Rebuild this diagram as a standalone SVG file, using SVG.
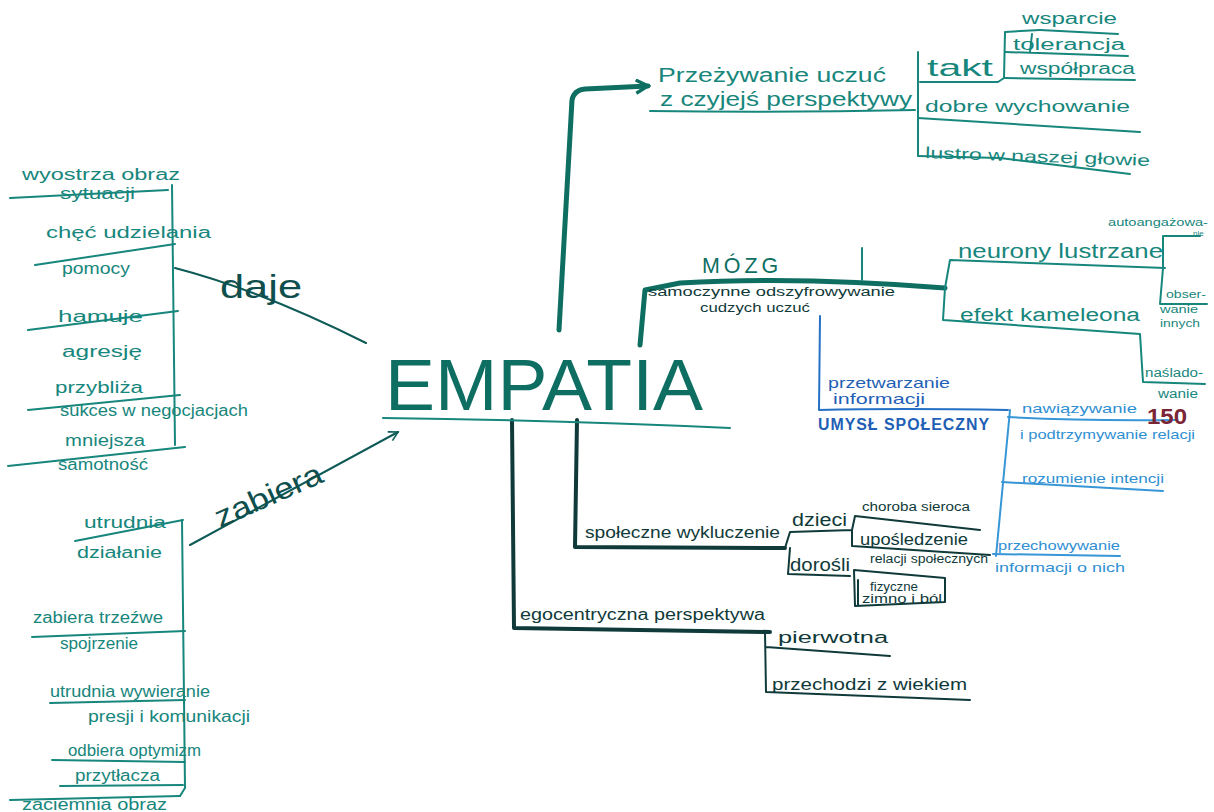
<svg xmlns="http://www.w3.org/2000/svg" width="1214" height="812" viewBox="0 0 1214 812">
<defs>
<style>
text{font-family:"Liberation Sans","DejaVu Sans",sans-serif;}
.tl{fill:#17867c;font-size:16px;}
.tls{fill:#17867c;font-size:12px;}
.dk{fill:#0f3a39;font-size:16px;}
.dks{fill:#0f3a39;font-size:12px;}
.bl{fill:#1f5fb5;font-size:15px;}
.lb{fill:#2f8fd3;font-size:13px;}
.ltl{stroke:#17867c;stroke-width:2;fill:none;stroke-linecap:round;stroke-linejoin:round;}
.ltk{stroke:#0e6e62;stroke-width:5;fill:none;stroke-linecap:round;stroke-linejoin:round;}
.ldk{stroke:#0f3a39;stroke-width:2;fill:none;stroke-linecap:round;stroke-linejoin:round;}
.ldkk{stroke:#0f3a39;stroke-width:4;fill:none;stroke-linecap:round;stroke-linejoin:round;}
.lbl{stroke:#2570c4;stroke-width:2;fill:none;stroke-linecap:round;stroke-linejoin:round;}
.llb{stroke:#3796d6;stroke-width:2;fill:none;stroke-linecap:round;stroke-linejoin:round;}
</style>
<marker id="arr" viewBox="0 0 12 12" refX="10" refY="6" markerWidth="3.2" markerHeight="3.2" orient="auto" markerUnits="strokeWidth">
<path d="M1,1 L10,6 L1,11" fill="none" stroke="#0e6e62" stroke-width="2.5"/>
</marker>
<marker id="arr2" viewBox="0 0 12 12" refX="10" refY="6" markerWidth="6" markerHeight="6" orient="auto" markerUnits="strokeWidth">
<path d="M1,1 L10,6 L1,11" fill="none" stroke="#0e5f59" stroke-width="1.6"/>
</marker>
</defs>
<rect width="1214" height="812" fill="#ffffff"/>

<g id="connectors">
<path class="ltk" d="M559,330 L572,100 Q574,90 585,89 L648,86" marker-end="url(#arr)"/>
<path class="ldk" style="stroke:#0e5a57" d="M175,268 Q260,290 366,343"/>
<path class="ldk" style="stroke:#0e5a57" d="M190,545 L398,432" marker-end="url(#arr2)"/>
<path class="ltk" d="M640,345 L645,290 L680,283 Q800,276 945,288"/>
<path class="ltl" d="M862,248 L862,280"/>
<path class="lbl" d="M820,316 L819,410 Q900,408 1008,410"/>
<path class="llb" d="M1010,410 L996,556"/>
<path class="ldkk" d="M512,420 L514,628 L770,632"/>
<path class="ldkk" d="M577,420 L575,547 L785,548"/>
</g>

<g id="empatia">
<text x="385" y="410" style="font-family:'Liberation Sans',sans-serif;font-size:72px;fill:#0e6e62" textLength="318" lengthAdjust="spacingAndGlyphs">EMPATIA</text>
<path class="ltl" d="M383,418 Q550,420 730,428"/>
</g>

<g id="daje">
<text x="220" y="298" style="font-size:34px;fill:#0e4e4c" textLength="82" lengthAdjust="spacingAndGlyphs">daje</text>
<path class="ltl" d="M172,185 L175,445"/>
</g>
<g id="wyostrza">
<text class="tl" x="22" y="180" textLength="158" lengthAdjust="spacingAndGlyphs">wyostrza obraz</text>
<text class="tl" x="60" y="199" textLength="75" lengthAdjust="spacingAndGlyphs">sytuacji</text>
<path class="ltl" d="M10,198 L168,190"/>
</g>
<g id="chec">
<text class="tl" x="46" y="238" textLength="165" lengthAdjust="spacingAndGlyphs">chęć udzielania</text>
<text class="tl" x="62" y="274" textLength="68" lengthAdjust="spacingAndGlyphs">pomocy</text>
<path class="ltl" d="M35,265 L175,244"/>
</g>
<g id="hamuje">
<text class="tl" x="58" y="322" textLength="85" lengthAdjust="spacingAndGlyphs">hamuje</text>
<text class="tl" x="62" y="357" textLength="80" lengthAdjust="spacingAndGlyphs">agresję</text>
<path class="ltl" d="M28,330 L178,311"/>
</g>
<g id="przybliza">
<text class="tl" x="55" y="393" textLength="88" lengthAdjust="spacingAndGlyphs">przybliża</text>
<text class="tl" x="60" y="416" textLength="188" lengthAdjust="spacingAndGlyphs">sukces w negocjacjach</text>
<path class="ltl" d="M28,410 L180,395"/>
</g>
<g id="mniejsza">
<text class="tl" x="65" y="446" textLength="80" lengthAdjust="spacingAndGlyphs">mniejsza</text>
<text class="tl" x="58" y="470" textLength="90" lengthAdjust="spacingAndGlyphs">samotność</text>
<path class="ltl" d="M8,466 L185,447"/>
</g>

<g id="zabiera">
<text x="0" y="0" transform="translate(220,528) rotate(-24)" style="font-size:30px;fill:#0e4e4c" textLength="115" lengthAdjust="spacingAndGlyphs">zabiera</text>
<path class="ltl" d="M182,520 L185,788 L180,796"/>
</g>
<g id="utrudnia">
<text class="tl" x="84" y="528" textLength="82" lengthAdjust="spacingAndGlyphs">utrudnia</text>
<text class="tl" x="77" y="558" textLength="85" lengthAdjust="spacingAndGlyphs">działanie</text>
<path class="ltl" d="M75,541 L183,520"/>
</g>
<g id="trzezwe">
<text class="tl" x="33" y="623" textLength="130" lengthAdjust="spacingAndGlyphs">zabiera trzeźwe</text>
<text class="tl" x="60" y="649" textLength="78" lengthAdjust="spacingAndGlyphs">spojrzenie</text>
<path class="ltl" d="M32,637 L185,631"/>
</g>
<g id="wywieranie">
<text class="tl" x="50" y="697" textLength="160" lengthAdjust="spacingAndGlyphs">utrudnia wywieranie</text>
<text class="tl" x="88" y="722" textLength="162" lengthAdjust="spacingAndGlyphs">presji i komunikacji</text>
<path class="ltl" d="M50,703 L185,700"/>
</g>
<g id="optymizm">
<text class="tl" x="68" y="756" textLength="133" lengthAdjust="spacingAndGlyphs">odbiera optymizm</text>
<path class="ltl" d="M52,760 L185,762"/>
</g>
<g id="przytlacza">
<text class="tl" x="75" y="781" textLength="85" lengthAdjust="spacingAndGlyphs">przytłacza</text>
<path class="ltl" d="M60,786 L183,785"/>
</g>
<g id="zaciemnia">
<text class="tl" x="22" y="810" textLength="145" lengthAdjust="spacingAndGlyphs">zaciemnia obraz</text>
<path class="ltl" d="M10,800 L180,796"/>
</g>

<g id="przezywanie">
<text class="tl" x="658" y="82" style="font-size:20px" textLength="228" lengthAdjust="spacingAndGlyphs">Przeżywanie uczuć</text>
<text class="tl" x="660" y="106" style="font-size:20px" textLength="252" lengthAdjust="spacingAndGlyphs">z czyjejś perspektywy</text>
<path class="ltl" d="M650,111 Q780,113 915,110"/>
<path class="ltl" d="M918,52 L918,155"/>
</g>
<g id="takt">
<text class="tl" x="927" y="76" style="font-size:24px" textLength="66" lengthAdjust="spacingAndGlyphs">takt</text>
<path class="ltl" d="M920,82 L998,82 L1004,78 L1005,32 L1040,30"/>
<path class="ltl" d="M1005,52 L1128,56 M1005,78 L1135,80 M1032,34 L1030,52"/>
</g>
<g id="wsparcie">
<text class="tl" x="1022" y="24" textLength="95" lengthAdjust="spacingAndGlyphs">wsparcie</text>
<path class="ltl" d="M1040,30 L1118,34"/>
</g>
<g id="tolerancja">
<text class="tl" x="1013" y="50" textLength="112" lengthAdjust="spacingAndGlyphs">tolerancja</text>
</g>
<g id="wspolpraca">
<text class="tl" x="1020" y="74" textLength="115" lengthAdjust="spacingAndGlyphs">współpraca</text>
</g>
<g id="wychowanie">
<text class="tl" x="925" y="112" textLength="205" lengthAdjust="spacingAndGlyphs">dobre wychowanie</text>
<path class="ltl" d="M918,118 L1140,132"/>
</g>
<g id="lustro">
<text class="tl" x="925" y="158" transform="rotate(2 925 158)" textLength="225" lengthAdjust="spacingAndGlyphs">lustro w naszej głowie</text>
<path class="ltl" d="M918,156 L1000,158 L1130,174"/>
</g>

<g id="mozg">
<text x="702" y="273" style="font-size:22px;fill:#0e6e62;letter-spacing:4px" textLength="80" lengthAdjust="spacingAndGlyphs">MÓZG</text>
<text class="dks" x="648" y="296" textLength="247" lengthAdjust="spacingAndGlyphs">samoczynne odszyfrowywanie</text>
<text class="dks" x="700" y="312" textLength="110" lengthAdjust="spacingAndGlyphs">cudzych uczuć</text>
<path class="ltl" d="M945,288 L950,260 L1165,268 M945,288 L943,320 L1140,334 L1143,382 L1205,384"/>
</g>
<g id="neurony">
<text class="tl" x="958" y="258" style="font-size:20px" textLength="205" lengthAdjust="spacingAndGlyphs">neurony lustrzane</text>
<path class="ltl" d="M1163,268 L1163,236 L1200,236 M1163,268 L1160,304 L1207,304"/>
</g>
<g id="autoangazowanie">
<text class="tls" x="1108" y="226" style="font-size:10px" textLength="100" lengthAdjust="spacingAndGlyphs">autoangażowa-</text>
<text class="tls" x="1193" y="236" style="font-size:8px">nie</text>
</g>
<g id="obserwowanie">
<text class="tls" x="1166" y="298" style="font-size:10px" textLength="40" lengthAdjust="spacingAndGlyphs">obser-</text>
<text class="tls" x="1160" y="313" style="font-size:11px" textLength="38" lengthAdjust="spacingAndGlyphs">wanie</text>
<text class="tls" x="1160" y="327" style="font-size:11px" textLength="40" lengthAdjust="spacingAndGlyphs">innych</text>
</g>
<g id="kameleona">
<text class="tl" x="960" y="321" style="font-size:18px" textLength="180" lengthAdjust="spacingAndGlyphs">efekt kameleona</text>
</g>
<g id="nasladowanie">
<text class="tls" x="1145" y="377" textLength="58" lengthAdjust="spacingAndGlyphs">naślado-</text>
<text class="tls" x="1158" y="398" textLength="40" lengthAdjust="spacingAndGlyphs">wanie</text>
</g>

<g id="umysl">
<text class="bl" x="828" y="388" textLength="122" lengthAdjust="spacingAndGlyphs">przetwarzanie</text>
<text class="bl" x="833" y="404" textLength="92" lengthAdjust="spacingAndGlyphs">informacji</text>
<text x="818" y="430" style="font-size:16px;fill:#1f5fb5;font-weight:bold;letter-spacing:1px" textLength="172" lengthAdjust="spacingAndGlyphs">UMYSŁ SPOŁECZNY</text>
</g>
<g id="relacje">
<text class="lb" x="1022" y="413" textLength="115" lengthAdjust="spacingAndGlyphs">nawiązywanie</text>
<text class="lb" x="1020" y="439" textLength="175" lengthAdjust="spacingAndGlyphs">i podtrzymywanie relacji</text>
<path class="llb" d="M1008,417 Q1080,421 1175,420"/>
<text x="1147" y="424" style="font-size:22px;fill:#7a2535;font-weight:bold" textLength="40" lengthAdjust="spacingAndGlyphs">150</text>
</g>
<g id="intencje">
<text class="lb" x="1022" y="483" textLength="142" lengthAdjust="spacingAndGlyphs">rozumienie intencji</text>
<path class="llb" d="M1002,482 L1163,491"/>
</g>
<g id="przechowywanie">
<text class="lb" x="998" y="550" textLength="122" lengthAdjust="spacingAndGlyphs">przechowywanie</text>
<text class="lb" x="995" y="572" textLength="130" lengthAdjust="spacingAndGlyphs">informacji o nich</text>
<path class="llb" d="M993,554 L1120,556"/>
</g>

<g id="wykluczenie">
<text class="dk" x="585" y="538" textLength="195" lengthAdjust="spacingAndGlyphs">społeczne wykluczenie</text>
<path class="ldk" d="M785,548 L790,532 L852,530 L855,516 L980,530 M852,530 L852,546 L990,555 M790,548 L788,574 L850,576"/>
</g>
<g id="dzieci">
<text class="dk" x="792" y="526" style="font-size:18px" textLength="55" lengthAdjust="spacingAndGlyphs">dzieci</text>
</g>
<g id="choroba">
<text class="dks" x="862" y="511" textLength="108" lengthAdjust="spacingAndGlyphs">choroba sieroca</text>
</g>
<g id="uposledzenie">
<text class="dk" x="860" y="545" textLength="108" lengthAdjust="spacingAndGlyphs">upośledzenie</text>
<text class="dks" x="870" y="563" textLength="118" lengthAdjust="spacingAndGlyphs">relacji społecznych</text>
</g>
<g id="dorosli">
<text class="dk" x="790" y="571" style="font-size:18px" textLength="60" lengthAdjust="spacingAndGlyphs">dorośli</text>
</g>
<g id="fizyczne">
<path class="ldk" d="M854,570 L945,578 L945,602 L855,606 Z M858,580 L858,606"/>
<text class="dks" x="870" y="591" textLength="48" lengthAdjust="spacingAndGlyphs">fizyczne</text>
<text class="dks" x="862" y="603" textLength="80" lengthAdjust="spacingAndGlyphs">zimno i ból</text>
</g>
<g id="egocentryczna">
<text class="dk" x="520" y="620" textLength="245" lengthAdjust="spacingAndGlyphs">egocentryczna perspektywa</text>
<path class="ldk" d="M765,632 L766,692 L970,700 M766,647 L890,656"/>
</g>
<g id="pierwotna">
<text class="dk" x="778" y="643" textLength="110" lengthAdjust="spacingAndGlyphs">pierwotna</text>
</g>
<g id="przechodzi">
<text class="dk" x="772" y="690" textLength="195" lengthAdjust="spacingAndGlyphs">przechodzi z wiekiem</text>
</g>
</svg>
